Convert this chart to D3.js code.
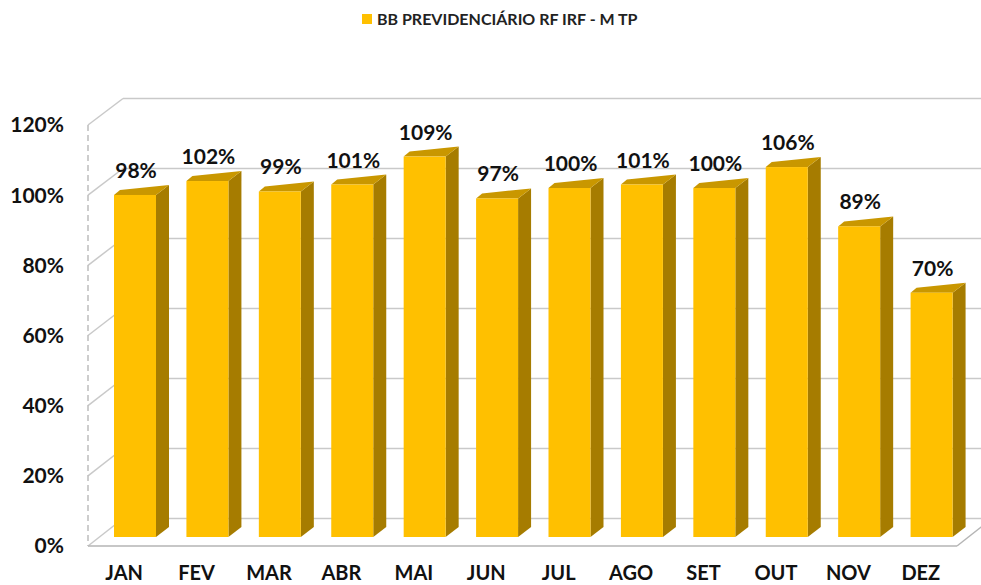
<!DOCTYPE html>
<html><head><meta charset="utf-8">
<script src="https://cdn.jsdelivr.net/npm/d3@7"></script>
<style>
html,body{margin:0;padding:0;background:#fff;}
svg{display:block;font-family:Lato, "Open Sans", sans-serif;}
</style></head>
<body><svg id="chart" width="981" height="585"></svg>
<script>
const categories = ["JAN","FEV","MAR","ABR","MAI","JUN","JUL","AGO","SET","OUT","NOV","DEZ"];
const values = [0.98,1.02,0.99,1.01,1.09,0.97,1.00,1.01,1.00,1.06,0.89,0.70];
const yTicks = [0,0.2,0.4,0.6,0.8,1.0,1.2];
const seriesName = "BB PREVIDENCIÁRIO RF IRF - M TP";

const svg = d3.select("#chart");
const W = 981, H = 585;
const fmt = d3.format(".0%");

// scales: front plane, back wall, and bar plane (mid depth)
const x = d3.scaleBand().domain(categories).range([88, 957]);
const yFront = d3.scaleLinear().domain([0,1.2]).range([546,125]);
const yBack  = d3.scaleLinear().domain([0,1.2]).range([518.5,98.5]);
const yBar   = d3.scaleLinear().domain([0,1.2]).range([537,118.2]);
const depthX = 35;           // floor depth offset
const backLeft = 88 + depthX, backRight = 957 + depthX;
const grid = "#c9c9c9";

// back wall gridlines
svg.append("g").selectAll("line").data(yTicks).join("line")
  .attr("x1", backLeft).attr("x2", W)
  .attr("y1", d=>yBack(d)).attr("y2", d=>yBack(d))
  .attr("stroke", grid).attr("stroke-width", 1.5);
// left wall diagonals
svg.append("g").selectAll("line").data(yTicks).join("line")
  .attr("x1", 88).attr("y1", d=>yFront(d))
  .attr("x2", backLeft).attr("y2", d=>yBack(d))
  .attr("stroke", grid).attr("stroke-width", 1.5);
// right floor edge
svg.append("line").attr("x1",957).attr("y1",yFront(0)).attr("x2",backRight).attr("y2",yBack(0))
  .attr("stroke","#b5b5b5").attr("stroke-width",1.5);
// front floor edge
svg.append("line").attr("x1",88).attr("y1",yFront(0)).attr("x2",957).attr("y2",yFront(0))
  .attr("stroke","#b5b5b5").attr("stroke-width",1.5);
// dashed vertical axis
svg.append("line").attr("x1",88).attr("y1",yFront(1.2)).attr("x2",88).attr("y2",yFront(0))
  .attr("stroke","#bdbdbd").attr("stroke-width",1.5).attr("stroke-dasharray","6,4");

// bars
const bw = 42, bOff = 26, sdx = 13, sdy = 10;
const bars = svg.append("g").selectAll("g").data(categories).join("g");
bars.each(function(c, i){
  const g = d3.select(this);
  const x0 = x(c) + bOff, x1 = x0 + bw;
  const yt = yBar(values[i]), yb = yBar(0);
  // side face
  g.append("path").attr("d", `M${x1},${yt}L${x1+sdx},${yt-sdy}L${x1+sdx},${yb-sdy}L${x1},${yb}Z`)
    .attr("fill","#a67c00");
  // top face
  g.append("path").attr("d", `M${x0},${yt}L${x1},${yt}L${x1+sdx},${yt-sdy}L${x0+6},${yt-5}Z`)
    .attr("fill","#c99700");
  // front face
  g.append("rect").attr("x",x0).attr("y",yt).attr("width",bw).attr("height",yb-yt)
    .attr("fill","#ffc000");
  // value label
  g.append("text").attr("x",(x0+x1)/2+1).attr("y",yt-17)
    .attr("text-anchor","middle").attr("font-size",21).attr("font-weight",700)
    .attr("fill","#111").text(fmt(values[i]));
});

// y-axis labels
svg.append("g").selectAll("text").data(yTicks).join("text")
  .attr("x", 64).attr("y", d=>yFront(d)).attr("dy","0.35em")
  .attr("text-anchor","end").attr("font-size",21).attr("font-weight",700)
  .attr("fill","#111").text(d=>fmt(d));

// category labels
svg.append("g").selectAll("text").data(categories).join("text")
  .attr("x", d=>x(d)+x.bandwidth()/2).attr("y", 580)
  .attr("text-anchor","middle").attr("font-size",20).attr("font-weight",700)
  .attr("fill","#111").text(d=>d);

// legend
const lg = svg.append("g");
lg.append("rect").attr("x",362).attr("y",14).attr("width",10).attr("height",10).attr("fill","#ffc000");
lg.append("text").attr("x",377).attr("y",19).attr("dy","0.35em")
  .attr("font-size",16).attr("font-weight",700).attr("fill","#222").text(seriesName);
</script></body></html>
